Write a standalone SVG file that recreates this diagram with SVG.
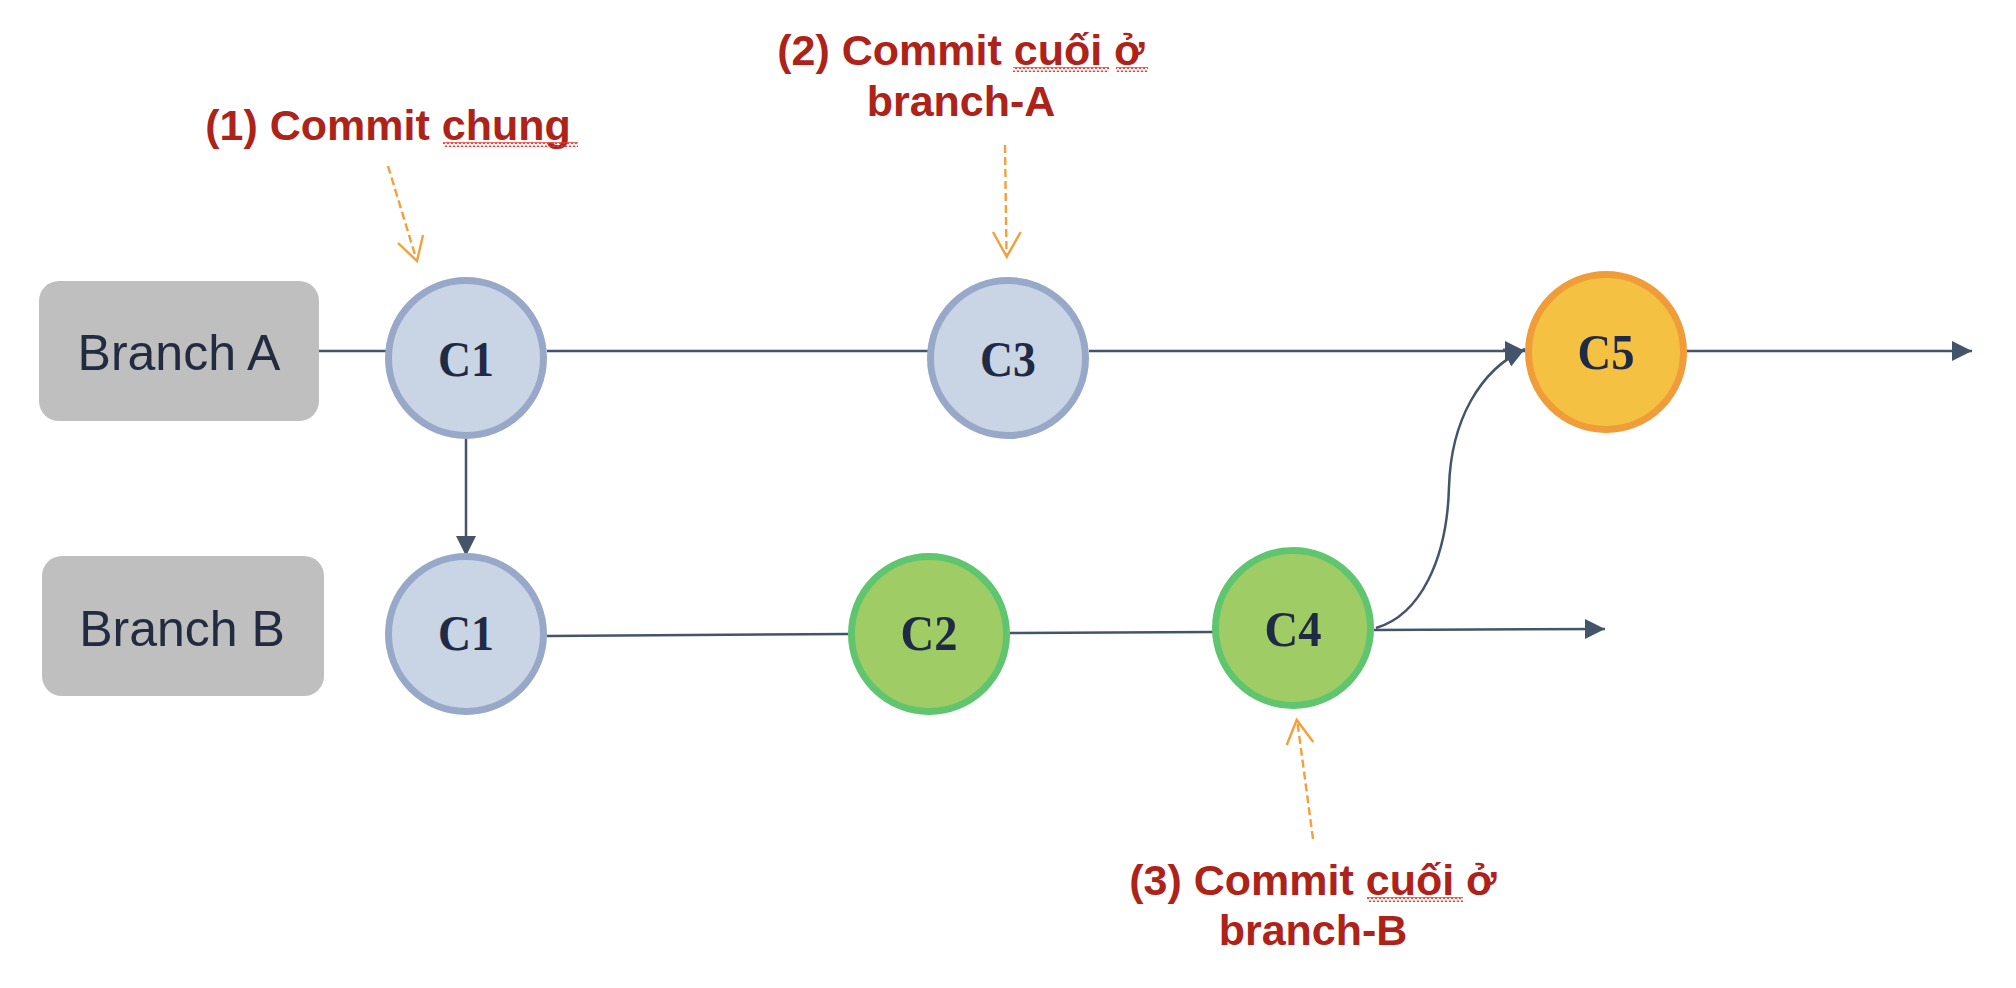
<svg xmlns="http://www.w3.org/2000/svg" width="2016" height="988" viewBox="0 0 2016 988">
<style>
.box{fill:#BFBFBF}
.btxt{font-family:"Liberation Sans",Arial,sans-serif;font-size:50px;fill:#222B3F;text-anchor:middle}
.cblue{fill:#C9D4E4;stroke:#98A8C8;stroke-width:7}
.cgreen{fill:#A0CC65;stroke:#5FC56F;stroke-width:7}
.corange{fill:#F5C142;stroke:#F09C38;stroke-width:7}
.ctxt{font-family:"Liberation Serif","Times New Roman",serif;font-weight:bold;font-size:50px;fill:#1F2A44;text-anchor:middle}
.ln{fill:none;stroke:#44546A;stroke-width:2.5}
.note{font-family:"Liberation Sans",Arial,sans-serif;font-weight:bold;font-size:43px;fill:#AE2319;text-anchor:middle}
.dash{fill:none;stroke:#F3A03A;stroke-width:2.4;stroke-dasharray:8 4}
.head{fill:none;stroke:#F3A03A;stroke-width:2.4}
</style>
<defs>
<marker id="arr" markerUnits="userSpaceOnUse" markerWidth="22" markerHeight="22" refX="20" refY="10" orient="auto">
<path d="M0,0 L20,10 L0,20 z" fill="#44546A"/>
</marker>
<pattern id="sq" width="4" height="5" patternUnits="userSpaceOnUse">
<path d="M0,4 L2,1 L4,4" fill="none" stroke="#E5392F" stroke-width="1.3"/>
</pattern>
</defs>
<rect width="2016" height="988" fill="#FFFFFF"/>
<g id="connectors">
<line class="ln" x1="318" y1="351" x2="386" y2="351"/>
<line class="ln" x1="547" y1="351" x2="928" y2="351"/>
<line class="ln" x1="1089" y1="351" x2="1525" y2="351" marker-end="url(#arr)"/>
<line class="ln" x1="1687" y1="351" x2="1972" y2="351" marker-end="url(#arr)"/>
<line class="ln" x1="466" y1="439" x2="466" y2="556" marker-end="url(#arr)"/>
<line class="ln" x1="547" y1="636" x2="849" y2="634"/>
<line class="ln" x1="1010" y1="633" x2="1213" y2="632"/>
<line class="ln" x1="1374" y1="630" x2="1605" y2="629" marker-end="url(#arr)"/>
<path class="ln" d="M1376,628 C1420,615 1447,560 1449,487 C1451,420 1480,370 1525,349" marker-end="url(#arr)"/>
</g>
<g id="branchA">
<rect class="box" x="39" y="281" width="280" height="140" rx="20"/>
<text class="btxt" x="179" y="370">Branch A</text>
</g>
<g id="branchB">
<rect class="box" x="42" y="556" width="282" height="140" rx="20"/>
<text class="btxt" x="182" y="646">Branch B</text>
</g>
<g id="c1a">
<circle class="cblue" cx="466" cy="358" r="77.5"/>
<text class="ctxt" x="466" y="376" textLength="56" lengthAdjust="spacingAndGlyphs">C1</text>
</g>
<g id="c3">
<circle class="cblue" cx="1008" cy="358" r="77.5"/>
<text class="ctxt" x="1008" y="376" textLength="56" lengthAdjust="spacingAndGlyphs">C3</text>
</g>
<g id="c5">
<circle class="corange" cx="1606" cy="352" r="77.5"/>
<text class="ctxt" x="1606" y="369" textLength="57" lengthAdjust="spacingAndGlyphs">C5</text>
</g>
<g id="c1b">
<circle class="cblue" cx="466" cy="634" r="77.5"/>
<text class="ctxt" x="466" y="650" textLength="56" lengthAdjust="spacingAndGlyphs">C1</text>
</g>
<g id="c2">
<circle class="cgreen" cx="929" cy="634" r="77.5"/>
<text class="ctxt" x="929" y="650" textLength="57" lengthAdjust="spacingAndGlyphs">C2</text>
</g>
<g id="c4">
<circle class="cgreen" cx="1293" cy="628" r="77.5"/>
<text class="ctxt" x="1293" y="646" textLength="57" lengthAdjust="spacingAndGlyphs">C4</text>
</g>
<g id="note1">
<text class="note" x="388" y="140">(1) Commit chung</text>
<rect x="443" y="142" width="135" height="5" fill="url(#sq)"/>
<line class="dash" x1="388" y1="166" x2="416" y2="258"/>
<polyline class="head" points="398,243 417,261 423,235"/>
</g>
<g id="note2">
<text class="note" x="961" y="65">(2) Commit cuối ở</text>
<text class="note" x="961" y="116">branch-A</text>
<rect x="1013" y="67" width="96" height="5" fill="url(#sq)"/>
<rect x="1116" y="67" width="32" height="5" fill="url(#sq)"/>
<line class="dash" x1="1005" y1="145" x2="1006.5" y2="254"/>
<polyline class="head" points="993,232 1006.7,256.7 1020.7,232"/>
</g>
<g id="note3">
<text class="note" x="1313" y="895">(3) Commit cuối ở</text>
<text class="note" x="1313" y="945">branch-B</text>
<rect x="1367" y="897" width="96" height="5" fill="url(#sq)"/>
<line class="dash" x1="1313" y1="839" x2="1297.5" y2="723"/>
<polyline class="head" points="1286.7,745 1296.7,720 1313.3,742"/>
</g>
</svg>
